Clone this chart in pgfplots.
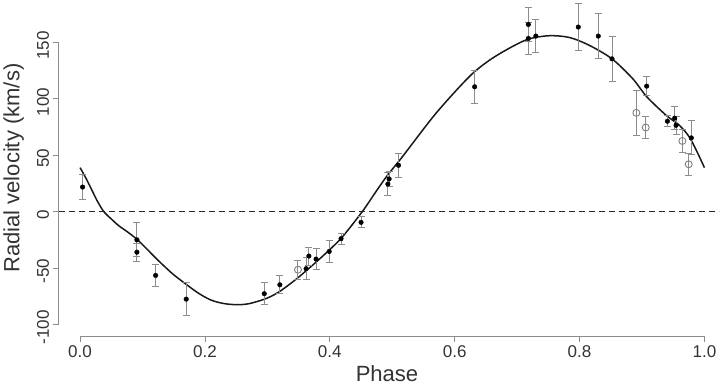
\documentclass[border=0pt]{standalone}
\usepackage{fontspec}
\setmainfont{Liberation Sans}
\usepackage{pgfplots}
\usepackage{pgfplotstable}
\pgfplotsset{compat=1.18}

\pgfplotstableread{
x y e
0.004 21.8 11
0.091 -25 15
0.091 -36 8
0.121 -56.6 10
0.170 -77.6 14.5
0.295 -72.8 10
0.320 -64.9 8
0.362 -50.6 10
0.3665 -39.4 8
0.378 -42.1 9.5
0.399 -35.3 10
0.418 -24 5
0.450 -9.5 5
0.493 24.5 10
0.495 29 7
0.510 41.1 10.5
0.632 110.7 14.5
0.718 166 15
0.718 153.6 14
0.730 155.7 15
0.798 163.7 20.5
0.830 155.7 20
0.852 135.5 20
0.9075 111.3 8.5
0.9407 80.2 5
0.9524 82.9 10
0.9546 76.6 8
0.979 65.4 15
}\filled

\pgfplotstableread{
x y e
0.349 -51.5 8.5
0.891 87.6 20
0.906 74.6 10
0.9647 62.7 10
0.9748 42 9.7
}\open

\pgfplotstableread{
x y
0.000 39
0.010 29
0.019 19
0.028 9
0.038 0
0.050 -6.5
0.062 -12.5
0.076 -18
0.091 -24.5
0.105 -32
0.120 -40.5
0.135 -48.5
0.150 -56
0.170 -64.5
0.190 -72.5
0.210 -78.5
0.230 -81.5
0.250 -82.5
0.270 -81.7
0.297 -77.3
0.318 -71.4
0.345 -60.4
0.372 -47.7
0.3985 -34.4
0.420 -22.5
0.452 0
0.473 17
0.492 32
0.516 48.5
0.5697 87
0.623 119.5
0.655 134
0.687 144.8
0.718 153
0.751 156
0.7835 154.5
0.8156 147.5
0.852 135.5
0.885 118
0.9075 102
0.9386 85.5
0.960 76.5
0.976 66
0.990 51
1.000 39
}\model

\begin{document}
\begin{tikzpicture}
\begin{axis}[
  scale only axis, width=660pt, height=336pt,
  xmin=-0.0345, xmax=1.024, ymin=-110.7, ymax=187.7,
  axis lines*=left, axis line style={draw=none},
  tick align=outside, major tick length=6pt,
  tick style={black!45, line width=0.8pt},
  xtick={0,0.2,0.4,0.6,0.8,1}, xticklabels={0.0,0.2,0.4,0.6,0.8,1.0},
  ytick={-100,-50,0,50,100,150}, yticklabels={-100,-50,0,50,100,150},
  ticklabel style={font=\fontsize{17}{17}\selectfont, text=black!80},
  yticklabel style={rotate=90, anchor=south, xshift=-3pt},
  xlabel={Phase}, ylabel={Radial velocity (km/s)},
  label style={font=\fontsize{22}{22}\selectfont, text=black!80},
  xlabel style={at={(axis description cs:0.497,-0.134)}, anchor=base},
  ylabel style={at={(axis description cs:-0.068,0.5)}, anchor=center},
  clip=false,
]
\draw[black!45, line width=0.8pt] (axis cs:0,-110.7) -- (axis cs:1,-110.7);
\draw[black!45, line width=0.8pt] (axis cs:-0.0345,-100) -- (axis cs:-0.0345,150);
\addplot[black!85, line width=1.2pt, dash pattern=on 6pt off 4pt] coordinates {(-0.0345,0) (1.024,0)};
\addplot[black!90, line width=1.5pt, smooth] table[x=x,y=y] {\model};
\addplot[only marks, mark=o, black!50, mark size=3.5pt, mark options={line width=0.9pt},
  error bars/.cd, y dir=both, y explicit,
  error bar style={black!45, line width=1pt},
  error mark options={black!45, line width=1pt, mark size=3.5pt, rotate=90}]
  table[x=x,y=y,y error=e] {\open};
\addplot[only marks, mark=*, black, mark size=2.3pt,
  error bars/.cd, y dir=both, y explicit,
  error bar style={black!45, line width=1pt},
  error mark options={black!45, line width=1pt, mark size=3.5pt, rotate=90}]
  table[x=x,y=y,y error=e] {\filled};
\end{axis}
\end{tikzpicture}
\end{document}
